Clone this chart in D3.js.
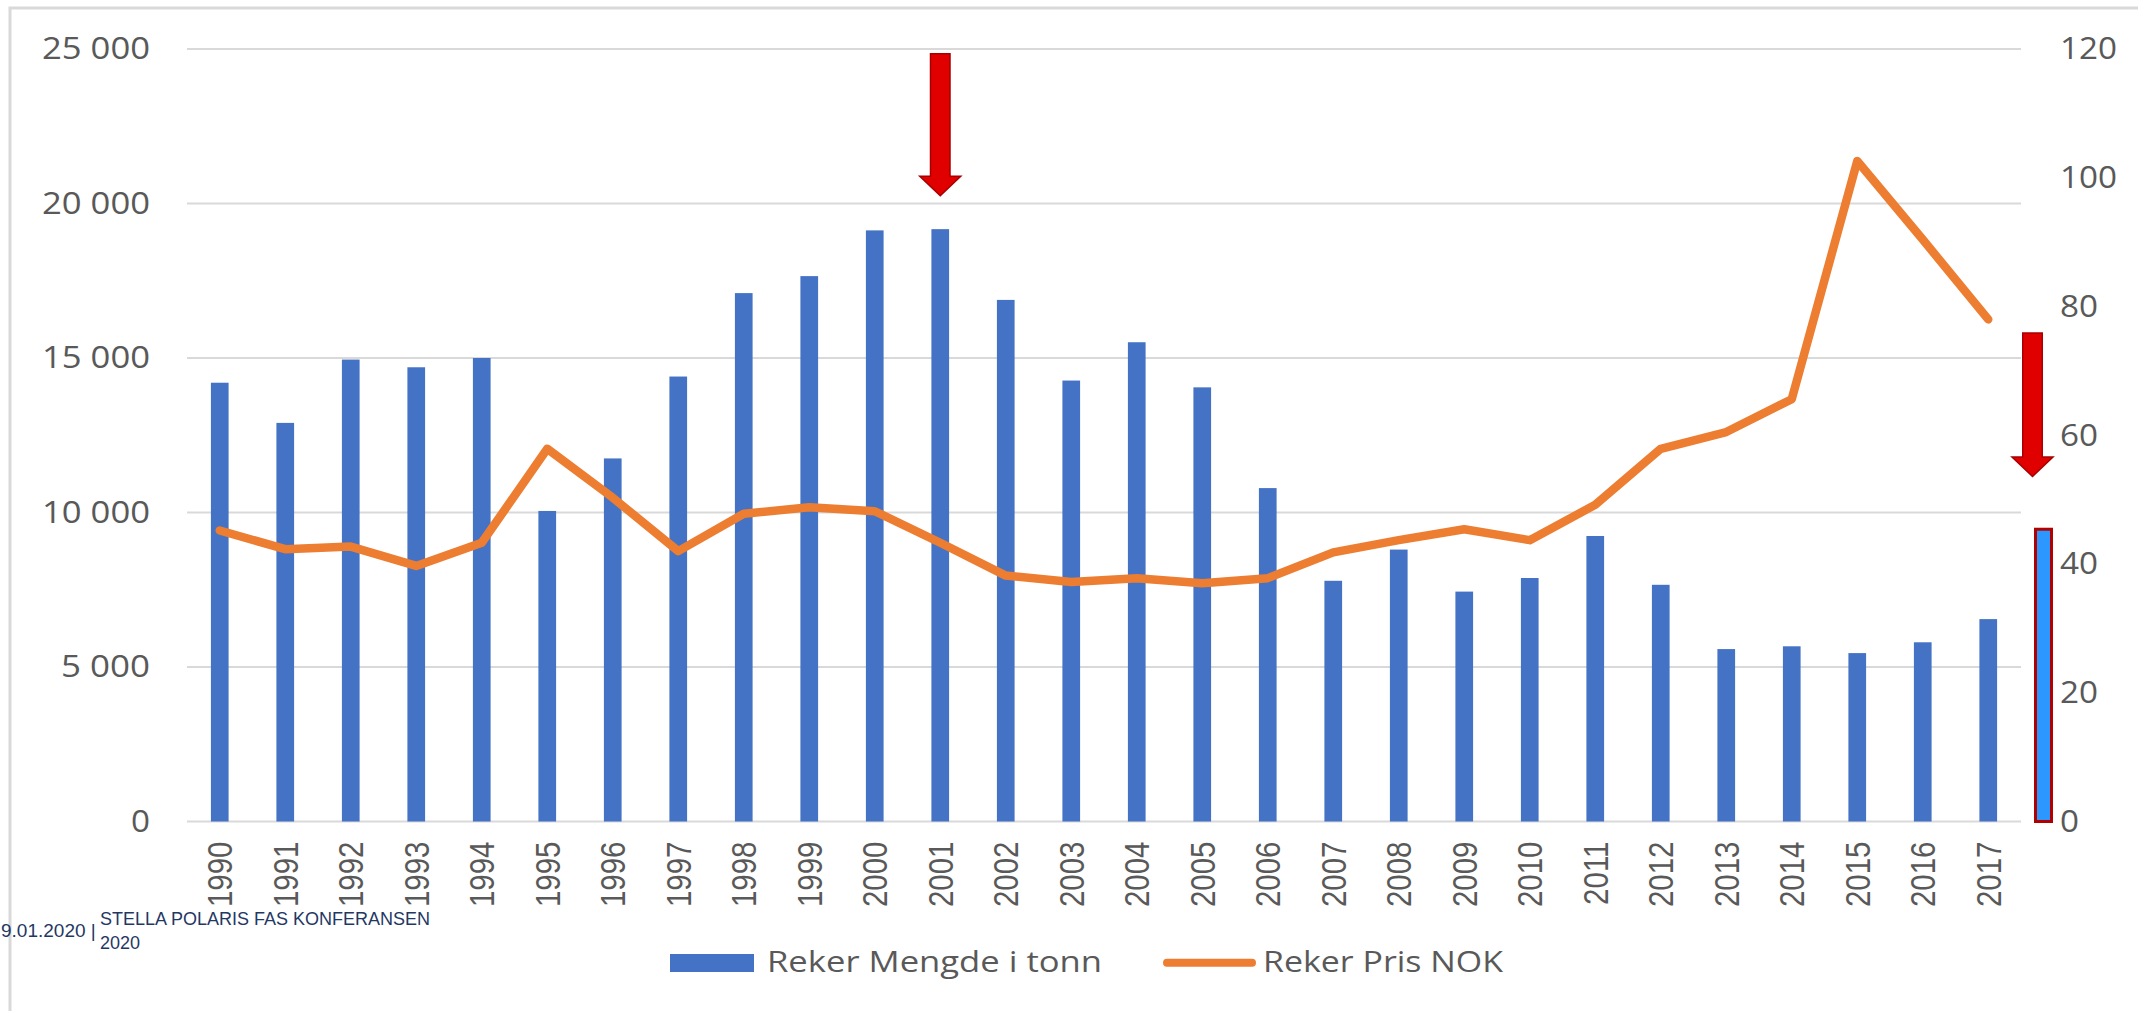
<!DOCTYPE html>
<html>
<head>
<meta charset="utf-8">
<script src="https://cdn.jsdelivr.net/npm/d3@7"></script>
<style>
  html, body { margin: 0; padding: 0; background: #fff; overflow: hidden; }
  svg { display: block; }
</style>
</head>
<body>
<div id="chart"></div>
<script>
// Data
const years = ["1990","1991","1992","1993","1994","1995","1996","1997","1998","1999",
  "2000","2001","2002","2003","2004","2005","2006","2007","2008","2009",
  "2010","2011","2012","2013","2014","2015","2016","2017"];
const mengde = [14200, 12900, 14950, 14700, 15000, 10050, 11750, 14400, 17100, 17650,
  19130, 19170, 16880, 14270, 15510, 14050, 10790, 7790, 8800, 7440,
  7880, 9240, 7660, 5580, 5670, 5450, 5800, 6550];
const pris = [45.2, 42.3, 42.7, 39.7, 43.3, 57.9, 50.3, 42.0, 47.8, 48.8,
  48.2, 43.3, 38.2, 37.2, 37.8, 37.0, 37.8, 41.8, 43.7, 45.4,
  43.7, 49.2, 57.9, 60.5, 65.6, 102.6, 90.4, 78.0];
const leftTicks = [0, 5000, 10000, 15000, 20000, 25000];
const rightTicks = [0, 20, 40, 60, 80, 100, 120];
const seriesNames = ["Reker Mengde i tonn", "Reker Pris NOK"];
// annotation values: arrow over 2001 (left axis), arrow + bar at right edge (right axis)
const arrowTop = { year: "2001", from: 24850, to: 20250 };
const arrowRight = { from: 75.9, to: 53.6 };
const markerValue = 45.4;
const footerDate = "9.01.2020 |";
const footerTitle = ["STELLA POLARIS FAS KONFERANSEN", "2020"];

const W = 2138, H = 1011;
const plot = { left: 187, right: 2021, top: 49, bottom: 821.5 };

const svg = d3.select("#chart").append("svg")
  .attr("width", W).attr("height", H);

// outer frame
svg.append("rect")
  .attr("x", 10).attr("y", 8).attr("width", W + 50).attr("height", H + 50)
  .attr("fill", "none").attr("stroke", "#d9d9d9").attr("stroke-width", 3);

const x = d3.scaleBand().domain(years).range([plot.left, plot.right]);
const yL = d3.scaleLinear().domain([0, 25000]).range([plot.bottom, plot.top]);
const yR = d3.scaleLinear().domain([0, 120]).range([plot.bottom, plot.top]);

const nf = d3.formatLocale({ decimal: ",", thousands: " ", grouping: [3], currency: ["", ""] }).format(",");

// gridlines
svg.append("g")
  .selectAll("line").data(leftTicks).join("line")
  .attr("x1", plot.left).attr("x2", plot.right)
  .attr("y1", d => yL(d)).attr("y2", d => yL(d))
  .attr("stroke", "#d9d9d9").attr("stroke-width", 2);

// width helper for the stretched axis digits
const labelLen = s => s.replace(/ /g, "").length * 19 + (s.split(" ").length - 1) * 13;

// left axis
const gL = svg.append("g")
  .attr("transform", `translate(${plot.left},0)`)
  .call(d3.axisLeft(yL).tickValues(leftTicks).tickFormat(nf).tickSize(0).tickPadding(37));
gL.select(".domain").remove();
gL.selectAll("text")
  .attr("font-family", "'Open Sans', sans-serif").attr("font-size", 31)
  .attr("fill", "#595959")
  .attr("textLength", function () { return labelLen(this.textContent); })
  .attr("lengthAdjust", "spacingAndGlyphs");

// right axis
const gR = svg.append("g")
  .attr("transform", `translate(${plot.right},0)`)
  .call(d3.axisRight(yR).tickValues(rightTicks).tickSize(0).tickPadding(39));
gR.select(".domain").remove();
gR.selectAll("text")
  .attr("font-family", "'Open Sans', sans-serif").attr("font-size", 31)
  .attr("fill", "#595959")
  .attr("textLength", function () { return labelLen(this.textContent); })
  .attr("lengthAdjust", "spacingAndGlyphs");

// year labels, rotated
svg.append("g")
  .selectAll("text").data(years).join("text")
  .attr("transform", d => `translate(${x(d) + x.bandwidth() / 2},${plot.bottom + 20}) scale(1.2,1) rotate(-90)`)
  .attr("text-anchor", "end")
  .attr("dy", "0.36em")
  .attr("font-family", "'Liberation Sans', Arial, sans-serif").attr("font-size", 29.5)
  .attr("fill", "#595959")
  .text(d => d);

// bars
const barW = x.bandwidth() * 0.27;
svg.append("g")
  .selectAll("rect").data(years).join("rect")
  .attr("x", d => x(d) + (x.bandwidth() - barW) / 2)
  .attr("width", barW)
  .attr("y", (d, i) => yL(mengde[i]))
  .attr("height", (d, i) => plot.bottom - yL(mengde[i]))
  .attr("fill", "#4472C4");

// price line
const line = d3.line()
  .x((d, i) => x(years[i]) + x.bandwidth() / 2)
  .y(d => yR(d));
svg.append("path")
  .datum(pris)
  .attr("d", line)
  .attr("fill", "none")
  .attr("stroke", "#ED7D31").attr("stroke-width", 8.5)
  .attr("stroke-linejoin", "round").attr("stroke-linecap", "round");

// red arrows
function arrow(cx, yTop, yTip) {
  const sw = 9.75, hw = 20.5, hh = 19.5;
  const yHead = yTip - hh;
  const pts = [[cx - sw, yTop], [cx + sw, yTop], [cx + sw, yHead], [cx + hw, yHead],
    [cx, yTip], [cx - hw, yHead], [cx - sw, yHead]];
  svg.append("path")
    .attr("d", "M" + pts.map(p => p.join(",")).join("L") + "Z")
    .attr("fill", "#E00000").attr("stroke", "#A80000").attr("stroke-width", 1.5);
}
arrow(x(arrowTop.year) + x.bandwidth() / 2, yL(arrowTop.from), yL(arrowTop.to));
arrow(plot.right + 11.5, yR(arrowRight.from), yR(arrowRight.to));

// blue marker bar on the right axis
svg.append("rect")
  .attr("x", plot.right + 14.5).attr("width", 16)
  .attr("y", yR(markerValue)).attr("height", yR(0) - yR(markerValue))
  .attr("fill", "#2B97FF").attr("stroke", "#B00000").attr("stroke-width", 3);

// legend
const lg = svg.append("g");
lg.append("rect").attr("x", 670).attr("y", 954).attr("width", 84).attr("height", 18).attr("fill", "#4472C4");
lg.append("text").attr("x", 767).attr("y", 971.5)
  .attr("font-family", "'Open Sans', sans-serif").attr("font-size", 29).attr("fill", "#595959")
  .attr("textLength", 335).attr("lengthAdjust", "spacingAndGlyphs")
  .text(seriesNames[0]);
lg.append("line").attr("x1", 1167).attr("x2", 1252).attr("y1", 962.7).attr("y2", 962.7)
  .attr("stroke", "#ED7D31").attr("stroke-width", 8).attr("stroke-linecap", "round");
lg.append("text").attr("x", 1263).attr("y", 971.5)
  .attr("font-family", "'Open Sans', sans-serif").attr("font-size", 29).attr("fill", "#595959")
  .attr("textLength", 240).attr("lengthAdjust", "spacingAndGlyphs")
  .text(seriesNames[1]);

// footer
const ft = svg.append("g")
  .attr("font-family", "'Liberation Sans', Arial, sans-serif").attr("fill", "#1F3864");
ft.append("text").attr("x", 1).attr("y", 937).attr("font-size", 19).text(footerDate);
ft.append("text").attr("x", 100).attr("y", 925).attr("font-size", 18).text(footerTitle[0]);
ft.append("text").attr("x", 100).attr("y", 949).attr("font-size", 18).text(footerTitle[1]);
</script>
</body>
</html>
